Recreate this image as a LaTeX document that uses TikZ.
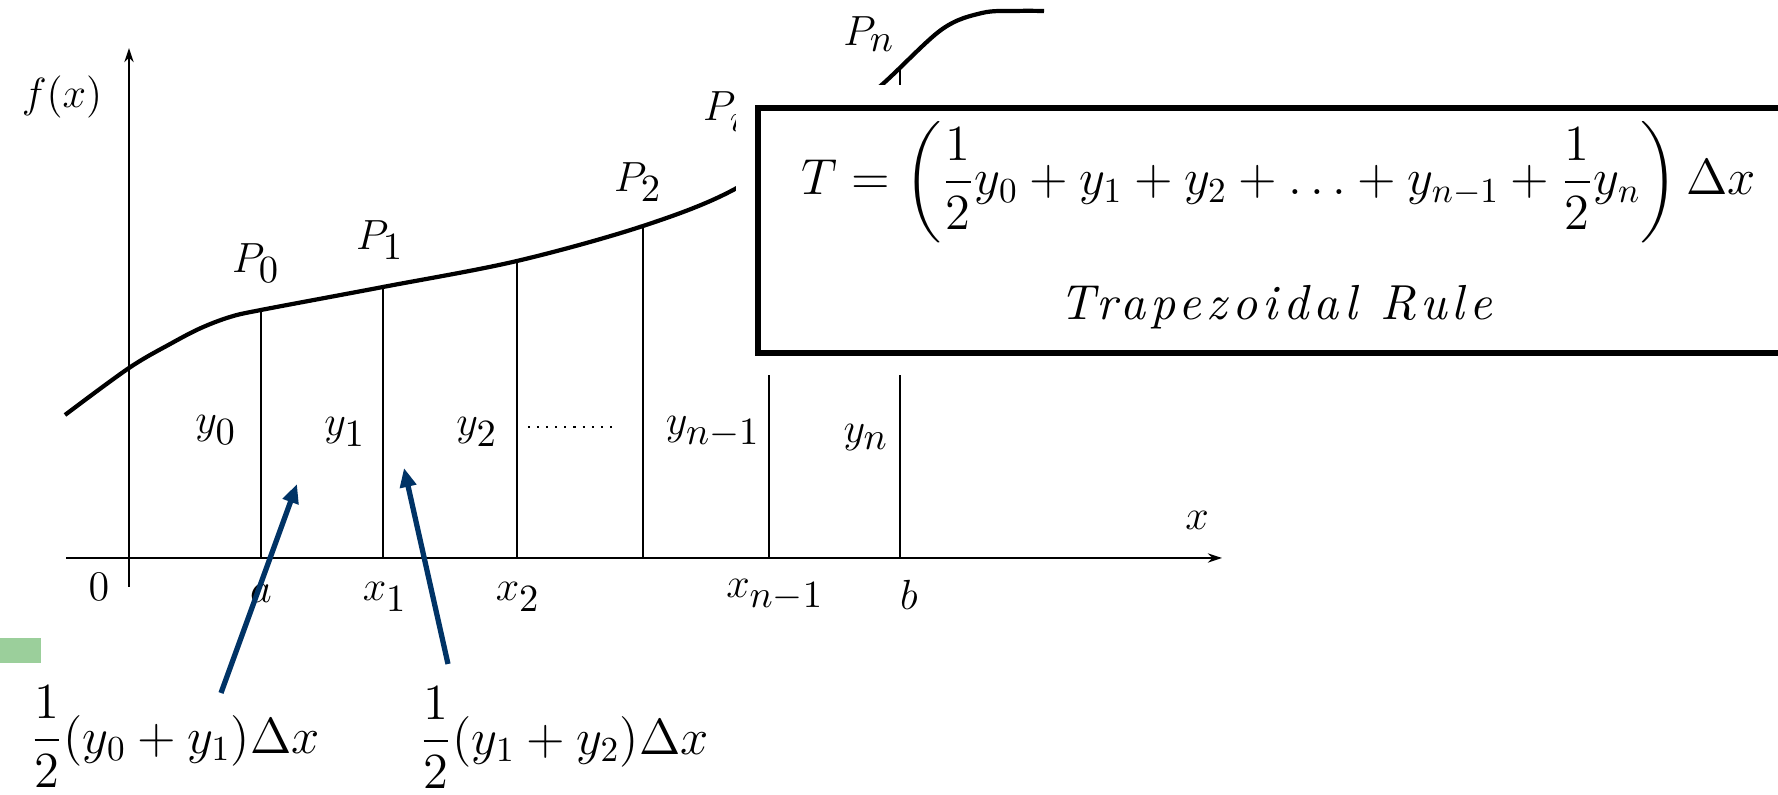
\documentclass[tikz,border=0pt]{standalone}
\usepackage{amsmath}
\usepackage{fontspec}
\newfontfamily\rulefont[LetterSpace=11]{lmroman10-italic.otf}
\DeclareMathSizes{13}{13}{10.5}{8}
\usepackage{xcolor}
\definecolor{arrownavy}{RGB}{0,51,102}
\definecolor{bulletgreen}{RGB}{155,207,155}
\usepackage{tikz}
\usetikzlibrary{arrows.meta}

\begin{document}
\begin{tikzpicture}[
    every node/.style={font=\fontsize{13}{15}\selectfont, inner sep=1pt},
    axis/.style={line width=0.6pt, -{Stealth[length=4pt, width=2.6pt]}},
    ordinate/.style={line width=0.5pt},
    curve/.style={line width=1.2pt},
    pointer/.style={draw=arrownavy, line width=1.5pt,
                    -{Triangle[length=0.19cm, width=0.16cm]}},
    formulabox/.style={draw=black, line width=1.5pt, fill=white,
                       preaction={draw=white, line width=0.45cm}},
    sumlabel/.style={font=\Large},
    boxtext/.style={font=\fontsize{14}{17}\selectfont},
]

\useasboundingbox (0,0) rectangle (17.78,7.95);

% ---- Axes ----
\draw[axis] (0.66,2.37) -- (12.22,2.37);
\draw[axis] (1.29,2.08) -- (1.29,7.47);

% ---- Ordinates y_0 ... y_n ----
\foreach \x/\top in {2.61/4.85, 3.83/5.08, 5.17/5.34, 6.43/5.69, 7.69/6.35, 9.00/7.27}
    \draw[ordinate] (\x,2.37) -- (\x,\top);

% ---- Curve f(x) ----
\draw[curve] plot[smooth, tension=0.55] coordinates {
    (0.65,3.80) (1.29,4.27) (1.72,4.52) (2.01,4.67) (2.30,4.78) (2.61,4.85)
    (3.83,5.08) (5.17,5.34) (6.43,5.69) (7.35,6.06) (8.20,6.65) (8.77,7.06)
    (9.41,7.65) (9.82,7.82) (10.16,7.84) (10.44,7.84)};

% ---- Point labels ----
\node (fx) at (0.62,6.98) {$f(x)$};
\node (p0) at (2.56,5.32) {$P_0$};
\node (p1) at (3.80,5.55) {$P_1$};
\node (p2) at (6.38,6.13) {$P_2$};
\node (pi) at (7.24,6.83) {$P_i$};
\node (pn) at (8.69,7.61) {$P_n$};

% ---- Formula box (covers the middle of the curve) ----
\path[formulabox] (7.58,4.42) rectangle (17.95,6.87);
\node[boxtext] (formula) at (12.79,6.13)
    {$T = \left(\dfrac{1}{2}y_0 + y_1 + y_2 + \ldots + y_{n-1} + \dfrac{1}{2}y_n\right)\Delta x$};
\node[boxtext] (rule) at (12.76,4.88) {\rulefont Trapezoidal Rule};

% ---- Ordinate labels ----
\node (y0)  at (2.16,3.65) {$y_0$};
\node (y1)  at (3.45,3.63) {$y_1$};
\node (y2)  at (4.77,3.63) {$y_2$};
\node (yn1) at (7.13,3.63) {$y_{n-1}$};
\node (yn)  at (8.66,3.57) {$y_n$};
\draw[line width=0.6pt, dotted] (y2.east) ++(0.26,0.05) -- ++(0.86,0);

% ---- Abscissa labels ----
\node (o)   at (0.99,2.08) {$0$};
\node (a)   at (2.61,2.02) {$a$};
\node (x1)  at (3.85,1.98) {$x_1$};
\node (x2)  at (5.18,1.98) {$x_2$};
\node (xn1) at (7.75,2.00) {$x_{n-1}$};
\node (b)   at (9.09,2.00) {$b$};
\node (x)   at (11.97,2.75) {$x$};

% ---- Strip areas ----
\fill[bulletgreen] (0,1.32) rectangle (0.41,1.57);
\node[sumlabel] (sum1) at (1.75,0.58) {$\dfrac{1}{2}(y_0+y_1)\Delta x$};
\node[sumlabel] (sum2) at (5.64,0.57) {$\dfrac{1}{2}(y_1+y_2)\Delta x$};

\coordinate (tail1) at (2.21,1.02);
\coordinate (tip1)  at (2.97,3.11);
\coordinate (tail2) at (4.48,1.31);
\coordinate (tip2)  at (4.04,3.27);
\draw[pointer] (tail1) -- (tip1);
\draw[pointer] (tail2) -- (tip2);

\end{tikzpicture}
\end{document}
